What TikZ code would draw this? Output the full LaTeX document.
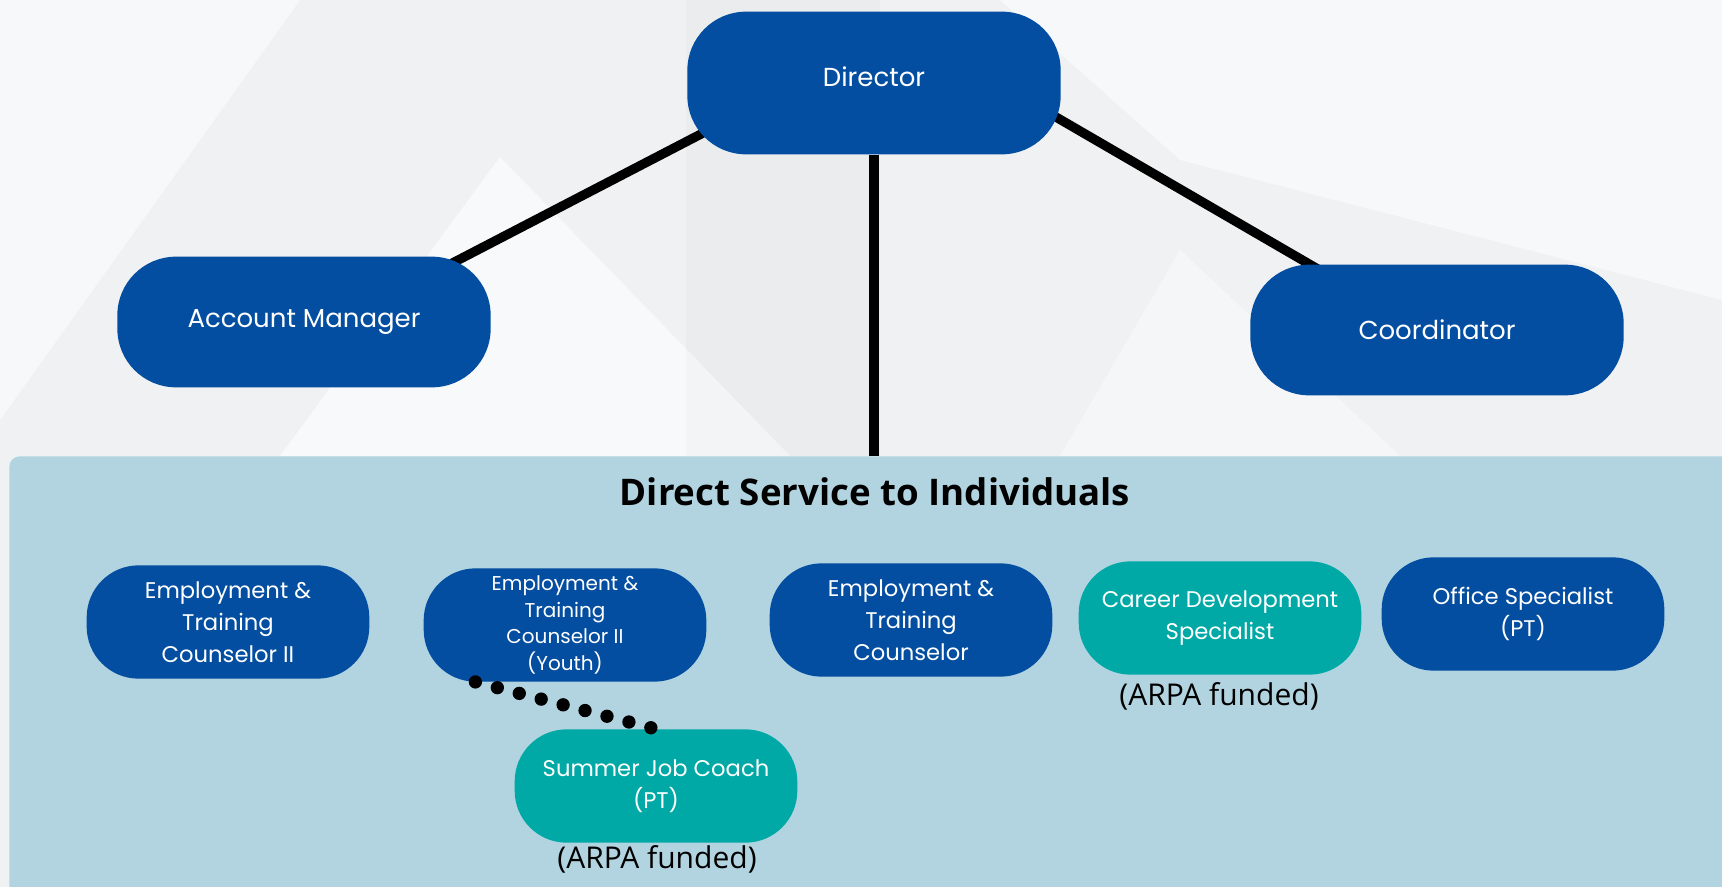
\documentclass[tikz,border=0pt]{standalone}
\usepackage{fontspec}
\setmainfont{Poppins}
\newfontfamily\titlefont{Open Sans}
\usetikzlibrary{calc}
\pgfdeclarelayer{background}
\pgfsetlayers{background,main}
\definecolor{navy}{HTML}{034EA0}
\definecolor{tealbox}{HTML}{00A9A6}
\definecolor{panelblue}{HTML}{B1D4E0}
\definecolor{bggray}{HTML}{EFF1F3}

\begin{document}
\begin{tikzpicture}[x=0.75pt, y=-0.75pt]
            \tikzstyle{role}=[rectangle,rounded corners=44pt,fill=navy,text=white,align=center,inner sep=2pt]
            \tikzstyle{top role}=[role,minimum width=280pt,minimum height=98pt,font=\fontsize{19.5}{24}\selectfont]
            \tikzstyle{staff}=[role,minimum width=212pt,minimum height=85pt,rounded corners=39pt,font=\fontsize{17}{24}\selectfont]
            \tikzstyle{funded}=[fill=tealbox]
            \tikzstyle{link}=[line width=7pt,black]
            \tikzstyle{note}=[font=\titlefont\fontsize{22.5}{26}\selectfont]

            \useasboundingbox (0,0) rectangle (1722,887);
            % backdrop
            \begin{pgfonlayer}{background}
                \fill[bggray] (0,0) rectangle (1722,887);
                \fill[white,opacity=0.6] (280,456) -- (500,157) -- (790,456) -- cycle;
                \fill[white,opacity=0.5] (0,0) -- (300,0) -- (0,420) -- cycle;
                \fill[white,opacity=0.5] (1000,0) -- (1722,0) -- (1722,300) -- (1180,160) -- cycle;
                \fill[black,opacity=0.02] (686,0) rectangle (880,456);
                \fill[white,opacity=0.4] (1060,456) -- (1180,250) -- (1400,456) -- cycle;
            \end{pgfonlayer}

            \node[fill=panelblue,rounded corners=8pt,minimum width=1300pt,minimum height=330pt,anchor=north west] (panel) at (9,456) {};
            \node[font=\titlefont\bfseries\fontsize{27.5}{32}\selectfont] (title) at (875,492) {Direct Service to Individuals};

            \node[top role,minimum height=107pt,text depth=9pt] (dir) at (874,83) {Director};
            \node[top role] (acct)  at (304,322)  {Account Manager};
            \node[top role] (coord) at (1437,330) {Coordinator};

            \node[staff] (etc2) at (228,622)  {Employment \&\\Training\\Counselor II};
            \node[staff,font=\fontsize{15}{20}\selectfont] (etcy) at (565,625) {Employment \&\\Training\\Counselor II\\(Youth)};
            \node[staff] (etc)  at (911,620)  {Employment \&\\Training\\Counselor};
            \node[staff,funded] (cds) at (1220,618) {Career Development\\Specialist};
            \node[staff] (ofs)  at (1523,614) {Office Specialist\\(PT)};
            \node[staff,funded] (sjc) at (656,786) {Summer Job Coach\\(PT)};

            \node[note] (arpa1) at (1219,696) {(ARPA funded)};
            \node[note] (arpa2) at (657,859)  {(ARPA funded)};

            \begin{pgfonlayer}{background}
                \coordinate (a1) at ([yshift=10pt]dir.south west);
                \coordinate (a2) at ([yshift=10pt]acct.north east);
                \coordinate (c1) at ([yshift=26pt]dir.south east);
                \coordinate (c2) at ([yshift=26pt]coord.north west);
                \draw[link] ($(a1)!-0.2!(a2)$) -- ($(a2)!-0.2!(a1)$);
                \draw[link] ($(c1)!-0.2!(c2)$) -- ($(c2)!-0.5!(c1)$);
                \draw[link] (dir.south) -- (dir.south |- panel.north);
            \end{pgfonlayer}
            \draw[line width=10pt,line cap=round,dash pattern=on 0pt off 17pt] ([xshift=39pt]etcy.south west) -- (sjc.north);
        \end{tikzpicture}
\end{document}
